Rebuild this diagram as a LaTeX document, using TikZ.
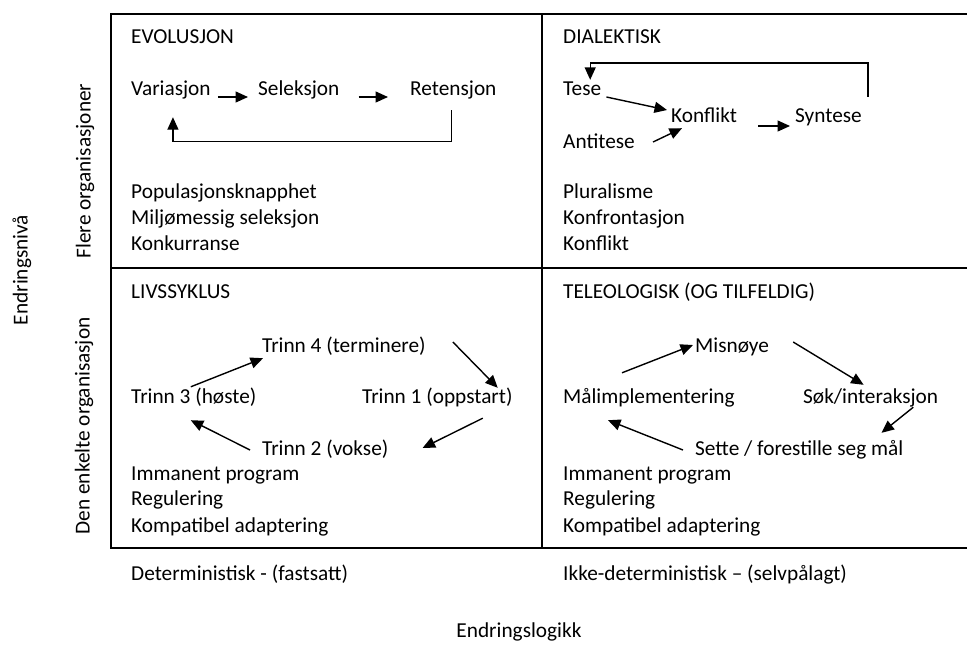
\documentclass[tikz,border=0pt]{standalone}
\usepackage{fontspec}
\setmainfont{Carlito}
\usetikzlibrary{arrows.meta,calc}
\begin{document}
\begin{tikzpicture}[x=1pt,y=-1pt,
  txt/.style={anchor=west,inner sep=0pt,text height=15pt,text depth=5pt,font=\fontsize{21.3}{25}\selectfont},
  axislbl/.style={inner sep=0pt,font=\fontsize{21.3}{25}\selectfont},
  arr/.style={line width=1.4pt,-{Triangle[length=12.5pt,width=11pt]}},
  frame/.style={line width=2.4pt}]
\useasboundingbox (0,0) rectangle (967,649);

% frame
\coordinate (tl) at (111,14);
\coordinate (tr) at (967,14);
\coordinate (ml) at (111,268);
\coordinate (mr) at (967,268);
\coordinate (bl) at (111,548);
\coordinate (br) at (967,548);
\coordinate (mt) at (542,14);
\coordinate (mb) at (542,548);
\draw[frame] (tr) -- (tl) -- (bl) -- (br);
\draw[frame] (ml) -- (mr);
\draw[frame] (mt) -- (mb);

% ---------- EVOLUSJON ----------
\node[txt] (evo) at (131,38) {EVOLUSJON};
\node[txt] (var) at (131,90) {Variasjon};
\node[txt] (sel) at (258,90) {Seleksjon};
\node[txt] (ret) at (410,90) {Retensjon};
\draw[arr] ($(var.east)+(7,7)$) -- ($(sel.west)+(-10,7)$);
\draw[arr] ($(sel.east)+(19,7)$) -- ($(ret.west)+(-22,7)$);
\draw[arr] ($(ret.south)+(-2,10)$) |- ($(var.south)+(2,41)$) -- ($(var.south)+(2,17)$);
\node[txt] (evo1) at (131,193) {Populasjonsknapphet};
\node[txt] (evo2) at (131,219) {Miljømessig seleksjon};
\node[txt] (evo3) at (131,245) {Konkurranse};

% ---------- DIALEKTISK ----------
\node[txt] (dia) at (563,38) {DIALEKTISK};
\node[txt] (tese) at (563,90) {Tese};
\node[txt] (konf) at (671,117) {Konflikt};
\node[txt] (syn) at (795,117) {Syntese};
\node[txt] (anti) at (563,143) {Antitese};
\draw[arr] ($(tese.east)+(5,7)$) -- ($(konf.west)+(-4,-7)$);
\draw[arr] ($(anti.east)+(18,-1)$) -- ($(konf.south west)+(11,1)$);
\draw[arr] ($(konf.east)+(21,9)$) -- ($(syn.west)+(-5,9)$);
\draw[arr] ($(syn.north east)+(6,-10)$) |- ($(tese.north)+(8,-17)$) -- ($(tese.north)+(8,0)$);
\node[txt] (dia1) at (563,193) {Pluralisme};
\node[txt] (dia2) at (563,219) {Konfrontasjon};
\node[txt] (dia3) at (563,245) {Konflikt};

% ---------- LIVSSYKLUS ----------
\node[txt] (liv) at (131,293) {LIVSSYKLUS};
\node[txt] (t4) at (262,347) {Trinn 4 (terminere)};
\node[txt] (t3) at (131,398) {Trinn 3 (høste)};
\node[txt] (t1) at (362,398) {Trinn 1 (oppstart)};
\node[txt] (t2) at (262,450) {Trinn 2 (vokse)};
\draw[arr] ($(t3.north)+(-3,-1)$) -- ($(t4.south west)+(1,1)$);
\draw[arr] ($(t4.east)+(27,-5)$) -- ($(t1.north east)+(-15,0)$);
\draw[arr] ($(t1.south east)+(-30,10)$) -- ($(t2.east)+(34,-2)$);
\draw[arr] ($(t2.west)+(-12,0)$) -- ($(t3.south)+(-3,12)$);
\node[txt] (liv1) at (131,475) {Immanent program};
\node[txt] (liv2) at (131,500) {Regulering};
\node[txt] (liv3) at (131,527) {Kompatibel adaptering};

% ---------- TELEOLOGISK ----------
\node[txt] (tel) at (563,293) {TELEOLOGISK (OG TILFELDIG)};
\node[txt] (mis) at (695,347) {Misnøye};
\node[txt] (mal) at (563,398) {Målimplementering};
\node[txt] (sok) at (803,398) {Søk/interaksjon};
\node[txt] (sette) at (695,450) {Sette / forestille seg mål};
\draw[arr] ($(mal.north west)+(59,-15)$) -- ($(mis.west)+(-2,-2)$);
\draw[arr] ($(mis.east)+(24,-5)$) -- ($(sok.north)+(-7,-3)$);
\draw[arr] ($(sok.south east)+(-25,-1)$) -- ($(sette.north east)+(-22,-7)$);
\draw[arr] ($(sette.west)+(-12,0)$) -- ($(mal.south west)+(45,12)$);
\node[txt] (tel1) at (563,475) {Immanent program};
\node[txt] (tel2) at (563,500) {Regulering};
\node[txt] (tel3) at (563,527) {Kompatibel adaptering};

% ---------- axes ----------
\node[axislbl,rotate=90] (flere) at (85,171) {Flere organisasjoner};
\node[axislbl,rotate=90] (enkelte) at (84,426) {Den enkelte organisasjon};
\node[axislbl,rotate=90] (nivaa) at (22,270) {Endringsnivå};
\node[txt] (det) at (131,575) {Deterministisk - (fastsatt)};
\node[txt] (ikke) at (563,575) {Ikke-deterministisk – (selvpålagt)};
\node[axislbl] (logikk) at (519,632) {Endringslogikk};
\end{tikzpicture}
\end{document}
